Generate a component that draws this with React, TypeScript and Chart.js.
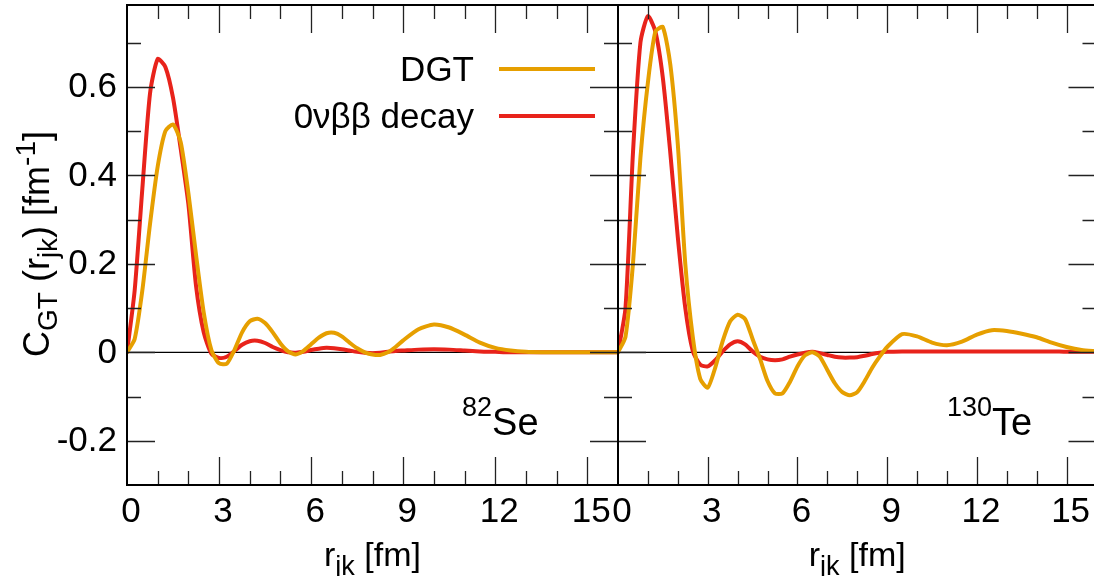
import { useEffect, useRef } from 'react';
import { Chart, registerables } from 'chart.js';

Chart.register(...registerables);

const FONT = '"Liberation Sans", Arial, Helvetica, sans-serif';
const ORANGE = '#E69F00';
const RED = '#E8231B';

// r_jk sampling (fm)
const rValues = [
  0, 0.25, 0.5, 0.75, 1, 1.25, 1.5, 1.75, 2, 2.25, 2.5, 2.75, 3, 3.25, 3.5, 3.75,
  4, 4.25, 4.5, 4.75, 5, 5.25, 5.5, 5.75, 6, 6.25, 6.5, 6.75, 7, 7.25, 7.5, 7.75,
  8, 8.25, 8.5, 8.75, 9, 9.5, 10, 10.5, 11, 11.5, 12, 12.5, 13, 13.5, 14, 14.5,
  15, 15.5, 16,
];

// 82Se, DGT
const dgtSe = [
  0, 0.03, 0.14, 0.29, 0.42, 0.5, 0.515, 0.475, 0.36, 0.22, 0.09, 0.005, -0.025, -0.026, 0.005, 0.045,
  0.07, 0.076, 0.066, 0.045, 0.02, 0.002, -0.005, 0.003, 0.018, 0.033, 0.043, 0.044, 0.036, 0.022, 0.009, 0,
  -0.005, -0.006, 0, 0.012, 0.027, 0.052, 0.063, 0.056, 0.04, 0.022, 0.01, 0.004, 0.001, 0, 0, 0,
  0, 0, 0,
];

// 82Se, 0νββ decay
const decaySe = [
  0, 0.14, 0.37, 0.585, 0.663, 0.645, 0.575, 0.46, 0.335, 0.15, 0.045, -0.003, -0.013, -0.01, 0.003, 0.017,
  0.025, 0.026, 0.021, 0.012, 0.005, 0, -0.001, 0.001, 0.005, 0.008, 0.01, 0.009, 0.007, 0.004, 0.001, -0.001,
  -0.002, -0.001, 0.001, 0.003, 0.004, 0.006, 0.007, 0.006, 0.004, 0.002, 0.001, 0, 0, 0, 0, 0,
  0, 0, 0,
];

// 130Te, DGT
const dgtTe = [
  0, 0.035, 0.2, 0.44, 0.61, 0.725, 0.735, 0.65, 0.47, 0.2, 0.035, -0.06, -0.08, -0.035, 0.025, 0.07,
  0.085, 0.075, 0.03, -0.015, -0.065, -0.093, -0.093, -0.067, -0.032, -0.007, 0, -0.01, -0.04, -0.07, -0.09, -0.097,
  -0.09, -0.065, -0.035, -0.01, 0.012, 0.041, 0.036, 0.022, 0.016, 0.024, 0.04, 0.05, 0.048, 0.042, 0.034, 0.022,
  0.012, 0.005, 0.002,
];

// 130Te, 0νββ decay
const decayTe = [
  0, 0.1, 0.45, 0.7, 0.76, 0.725, 0.62, 0.45, 0.26, 0.1, 0.003, -0.028, -0.032, -0.018, 0.002, 0.018,
  0.025, 0.018, 0.002, -0.01, -0.016, -0.018, -0.016, -0.01, -0.005, -0.001, 0.001, -0.002, -0.006, -0.01, -0.012, -0.012,
  -0.011, -0.008, -0.004, -0.001, 0.001, 0.002, 0.002, 0.002, 0.002, 0.002, 0.002, 0.002, 0.002, 0.002, 0.002, 0.002,
  0.001, 0.001, 0.001,
];

const xTickValues = [0, 3, 6, 9, 12, 15];
const yTickValues = [-0.2, 0, 0.2, 0.4, 0.6];
const seriesNames = ['DGT', '0νββ decay'];
const isotopeLeft = ['82', 'Se'];
const isotopeRight = ['130', 'Te'];

const X_MIN = 0;
const X_MAX = 16;
const Y_MIN = -0.3;
const Y_MAX = 0.785;

type Part = { t: string; size: number; dy: number };

function drawRich(ctx: CanvasRenderingContext2D, parts: Part[], x: number, y: number, align: 'left' | 'center' | 'right') {
  let total = 0;
  const widths: number[] = [];
  for (const p of parts) {
    ctx.font = `${p.size}px ${FONT}`;
    const w = ctx.measureText(p.t).width;
    widths.push(w);
    total += w;
  }
  let cx = align === 'left' ? x : align === 'center' ? x - total / 2 : x - total;
  ctx.textAlign = 'left';
  ctx.textBaseline = 'alphabetic';
  ctx.fillStyle = '#000';
  parts.forEach((p, i) => {
    ctx.font = `${p.size}px ${FONT}`;
    ctx.fillText(p.t, cx, y + p.dy);
    cx += widths[i];
  });
}

function makeFramePlugin(drawText: (ctx: CanvasRenderingContext2D, chart: any) => void) {
  return {
    id: 'frame',
    beforeDatasetsDraw(chart: any) {
      const { ctx, chartArea: a, scales } = chart;
      const y0 = scales.y.getPixelForValue(0);
      ctx.save();
      ctx.strokeStyle = '#000';
      ctx.lineWidth = 1.2;
      ctx.beginPath();
      ctx.moveTo(a.left, y0);
      ctx.lineTo(a.right, y0);
      ctx.stroke();
      ctx.restore();
    },
    afterDatasetsDraw(chart: any) {
      const { ctx, chartArea: a, scales } = chart;
      const xs = scales.x;
      const ys = scales.y;
      ctx.save();
      ctx.strokeStyle = '#222';
      ctx.lineWidth = 1.3;
      ctx.beginPath();
      for (let v = X_MIN + 1; v < X_MAX; v++) {
        const len = v % 3 === 0 ? 28 : 14;
        const px = Math.round(xs.getPixelForValue(v)) + 0.5;
        ctx.moveTo(px, a.bottom);
        ctx.lineTo(px, a.bottom - len);
        ctx.moveTo(px, a.top);
        ctx.lineTo(px, a.top + len);
      }
      for (let k = -2; k <= 7; k++) {
        const len = k % 2 === 0 ? 28 : 14;
        const py = Math.round(ys.getPixelForValue(k / 10)) + 0.5;
        ctx.moveTo(a.left, py);
        ctx.lineTo(a.left + len, py);
        ctx.moveTo(a.right, py);
        ctx.lineTo(a.right - len, py);
      }
      ctx.stroke();
      ctx.strokeStyle = '#000';
      ctx.lineWidth = 2;
      ctx.strokeRect(a.left, a.top, a.right - a.left, a.bottom - a.top);
      ctx.restore();
    },
    afterDraw(chart: any) {
      const ctx = chart.ctx as CanvasRenderingContext2D;
      ctx.save();
      drawText(ctx, chart);
      ctx.restore();
    },
  };
}

function xLabel(v: number) {
  return xTickValues.includes(v) ? String(v) : '';
}
function yLabel(v: number) {
  const m = yTickValues.find((t) => Math.abs(t - v) < 1e-6);
  return m === undefined ? '' : String(m);
}

function buildConfig(
  dgt: number[],
  decay: number[],
  yAxisWidth: number,
  showYLabels: boolean,
  padRight: number,
  drawText: (ctx: CanvasRenderingContext2D, chart: any) => void,
): any {
  const line = (label: string, values: number[], color: string) => ({
    label,
    data: rValues.map((x, i) => ({ x, y: values[i] })),
    borderColor: color,
    borderWidth: 4,
    pointRadius: 0,
    tension: 0.22,
    fill: false,
    borderJoinStyle: 'round',
    borderCapStyle: 'round',
  });
  return {
    type: 'line',
    data: {
      datasets: [line(seriesNames[0], dgt, ORANGE), line(seriesNames[1], decay, RED)],
    },
    options: {
      animation: false,
      responsive: false,
      maintainAspectRatio: false,
      events: [],
      layout: { padding: { left: 0, right: padRight, top: 5, bottom: 0 } },
      plugins: { legend: { display: false }, tooltip: { enabled: false }, title: { display: false } },
      scales: {
        x: {
          type: 'linear',
          min: X_MIN,
          max: X_MAX,
          grid: { display: false, drawTicks: false },
          border: { display: false },
          ticks: {
            stepSize: 1,
            autoSkip: false,
            maxRotation: 0,
            padding: 6,
            labelOffset: 4,
            color: '#000',
            font: { family: FONT, size: 35 },
            callback: (v: number) => xLabel(v),
          },
          afterFit: (s: any) => {
            s.height = 91;
            s.paddingLeft = 0;
            s.paddingRight = 0;
          },
        },
        y: {
          type: 'linear',
          min: Y_MIN,
          max: Y_MAX,
          grid: { display: false, drawTicks: false },
          border: { display: false },
          ticks: {
            display: showYLabels,
            stepSize: 0.1,
            autoSkip: false,
            padding: 10,
            labelOffset: 1,
            color: '#000',
            font: { family: FONT, size: 35 },
            callback: (v: number) => yLabel(v),
          },
          afterFit: (s: any) => {
            s.width = yAxisWidth;
            s.paddingTop = 0;
            s.paddingBottom = 0;
          },
        },
      },
    },
    plugins: [makeFramePlugin(drawText)],
  };
}

const LEFT_W = 640;
const RIGHT_LEFT = 590;
const RIGHT_W = 520;
const H = 576;

function drawXTitle(ctx: CanvasRenderingContext2D, a: any) {
  drawRich(
    ctx,
    [
      { t: 'r', size: 34, dy: 0 },
      { t: 'jk', size: 27, dy: 9 },
      { t: ' [fm]', size: 34, dy: 0 },
    ],
    (a.left + a.right) / 2,
    566,
    'center',
  );
}

function drawLeftText(ctx: CanvasRenderingContext2D, chart: any) {
  const a = chart.chartArea;
  // y-axis title
  ctx.save();
  ctx.translate(49, 244);
  ctx.rotate(-Math.PI / 2);
  drawRich(
    ctx,
    [
      { t: 'C', size: 36, dy: 0 },
      { t: 'GT', size: 28, dy: 8 },
      { t: ' (r', size: 36, dy: 0 },
      { t: 'jk', size: 28, dy: 8 },
      { t: ') [fm', size: 36, dy: 0 },
      { t: '-1', size: 28, dy: -14 },
      { t: ']', size: 36, dy: 0 },
    ],
    0,
    0,
    'center',
  );
  ctx.restore();
  drawXTitle(ctx, a);
  // legend
  const rows = [
    { name: seriesNames[0], color: ORANGE, y: 69 },
    { name: seriesNames[1], color: RED, y: 116 },
  ];
  for (const r of rows) {
    drawRich(ctx, [{ t: r.name, size: 35, dy: 0 }], 474, r.y + 12, 'right');
    ctx.strokeStyle = r.color;
    ctx.lineWidth = 4;
    ctx.beginPath();
    ctx.moveTo(499, r.y);
    ctx.lineTo(595, r.y);
    ctx.stroke();
  }
  // isotope
  drawRich(
    ctx,
    [
      { t: isotopeLeft[0], size: 27, dy: -19 },
      { t: isotopeLeft[1], size: 38, dy: 0 },
    ],
    462,
    435,
    'left',
  );
}

function drawRightText(ctx: CanvasRenderingContext2D, chart: any) {
  const a = chart.chartArea;
  drawXTitle(ctx, a);
  drawRich(
    ctx,
    [
      { t: isotopeRight[0], size: 27, dy: -19 },
      { t: isotopeRight[1], size: 38, dy: 0 },
    ],
    947 - RIGHT_LEFT,
    435,
    'left',
  );
}

export default function App() {
  const leftRef = useRef<HTMLCanvasElement>(null);
  const rightRef = useRef<HTMLCanvasElement>(null);

  useEffect(() => {
    if (!leftRef.current || !rightRef.current) return;
    const left = new Chart(leftRef.current, buildConfig(dgtSe, decaySe, 127, true, LEFT_W - 618, drawLeftText));
    const right = new Chart(
      rightRef.current,
      buildConfig(dgtTe, decayTe, 618 - RIGHT_LEFT, false, RIGHT_W - (1096.5 - RIGHT_LEFT), drawRightText),
    );
    return () => {
      left.destroy();
      right.destroy();
    };
  }, []);

  return (
    <div
      style={{
        position: 'fixed',
        left: 0,
        top: 0,
        width: 1094,
        height: H,
        overflow: 'hidden',
        background: '#fff',
      }}
    >
      <canvas
        ref={leftRef}
        width={LEFT_W}
        height={H}
        style={{ position: 'absolute', left: 0, top: 0, width: LEFT_W, height: H }}
      />
      <canvas
        ref={rightRef}
        width={RIGHT_W}
        height={H}
        style={{ position: 'absolute', left: RIGHT_LEFT, top: 0, width: RIGHT_W, height: H }}
      />
    </div>
  );
}
